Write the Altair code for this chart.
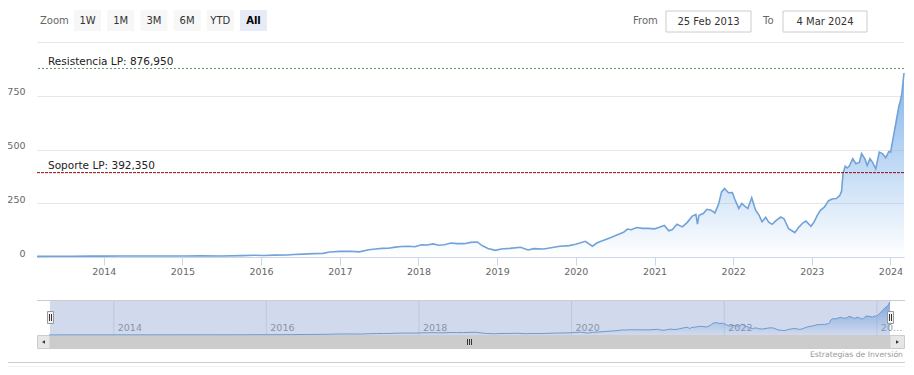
import altair as alt
import pandas as pd

FONT = "DejaVu Sans"

# ---------------- data ----------------
dates = [
    "2013-02-25", "2013-05-01", "2013-08-01", "2013-11-01",
    "2014-01-01", "2014-04-01", "2014-07-01", "2014-10-01",
    "2015-01-01", "2015-04-01", "2015-07-01", "2015-10-01", "2015-12-01",
    "2016-01-15", "2016-03-01", "2016-05-01", "2016-06-01", "2016-07-15",
    "2016-09-01", "2016-10-15", "2016-11-15",
    "2017-01-01", "2017-02-15", "2017-04-01", "2017-05-15", "2017-06-15",
    "2017-07-15", "2017-08-15", "2017-09-15", "2017-10-15", "2017-11-15", "2017-12-15",
    "2018-01-15", "2018-02-10", "2018-03-10", "2018-04-05", "2018-05-01", "2018-06-01",
    "2018-07-01", "2018-08-01", "2018-09-01", "2018-10-01", "2018-10-25", "2018-11-20",
    "2018-12-24",
    "2019-01-20", "2019-03-01", "2019-04-20", "2019-05-25", "2019-06-20", "2019-08-05",
    "2019-09-15", "2019-10-20", "2019-12-01",
    "2020-01-01", "2020-02-15", "2020-03-18", "2020-04-10", "2020-05-10", "2020-06-10",
    "2020-07-10", "2020-08-10", "2020-08-28", "2020-09-15", "2020-10-10", "2020-11-05",
    "2020-12-01",
    "2021-01-01", "2021-01-20", "2021-02-15", "2021-03-08", "2021-03-25", "2021-04-15",
    "2021-05-10", "2021-06-01", "2021-06-25", "2021-07-12", "2021-07-19", "2021-07-26",
    "2021-08-15", "2021-09-01", "2021-09-20", "2021-10-08", "2021-10-25", "2021-11-08",
    "2021-11-22", "2021-12-10", "2021-12-28",
    "2022-01-10", "2022-01-27", "2022-02-10", "2022-02-25", "2022-03-10", "2022-03-28",
    "2022-04-15", "2022-05-01", "2022-05-15", "2022-06-01", "2022-06-15", "2022-07-01",
    "2022-07-20", "2022-08-10", "2022-08-25", "2022-09-15", "2022-10-01", "2022-10-14",
    "2022-11-01", "2022-11-20", "2022-12-05", "2022-12-28",
    "2023-01-10", "2023-01-27", "2023-02-10", "2023-02-28", "2023-03-20", "2023-04-05",
    "2023-04-25", "2023-05-10", "2023-05-19", "2023-05-26", "2023-06-05", "2023-06-14",
    "2023-06-25", "2023-07-10", "2023-07-25", "2023-08-10", "2023-08-20", "2023-09-05",
    "2023-09-15", "2023-09-28", "2023-10-10", "2023-10-25", "2023-11-10", "2023-11-25",
    "2023-12-10", "2023-12-25",
    "2024-01-02", "2024-01-12", "2024-01-26", "2024-02-09", "2024-02-16", "2024-02-23",
    "2024-03-04",
]
values = [
    3.1, 3.5, 3.8, 3.9,
    4.0, 4.5, 4.7, 4.5,
    5.0, 5.3, 5.0, 6.5, 8.2,
    7.0, 8.5, 9.5, 11.6, 13.5,
    15.5, 17.0, 23.0,
    26.0, 26.5, 24.0, 34.0, 37.0,
    40.0, 41.0, 46.0, 49.0, 50.0, 48.0,
    57.0, 56.0, 61.0, 55.0, 57.0, 65.0,
    62.0, 62.0, 68.0, 70.0, 52.0, 40.0,
    31.0,
    37.0, 40.0, 45.0, 33.0, 39.0, 37.0,
    44.0, 50.0, 53.0,
    59.0, 73.0, 50.0, 66.0, 78.0, 90.0,
    102.0, 115.0, 130.0, 127.0, 137.0, 133.0,
    133.0,
    131.0, 137.0, 147.0, 122.0, 128.0, 152.0,
    140.0, 160.0, 190.0, 198.0, 153.0, 194.0,
    202.0, 222.0, 218.0, 205.0, 245.0, 303.0,
    319.0, 299.0, 300.0,
    265.0, 226.0, 249.0, 236.0, 226.0, 276.0,
    218.0, 195.0, 164.0, 184.0, 162.0, 152.0,
    170.0, 186.0, 178.0, 132.0, 122.0, 113.0,
    138.0, 158.0, 167.0, 143.0,
    160.0, 195.0, 217.0, 232.0, 262.0, 270.0,
    272.0, 285.0, 305.0, 389.0, 422.0, 414.0,
    424.0, 457.0, 434.0, 440.0, 481.0, 455.0,
    426.0, 457.0, 440.0, 410.0, 488.0, 481.0,
    462.0, 491.0,
    488.0, 545.0, 621.0, 700.0, 726.0, 760.0,
    856.0,
]

level_values = [876.95, 392.35]
level_labels = ["Resistencia LP: 876,950", "Soporte LP: 392,350"]

y_ticks = [0, 250, 500, 750, 1000]
x_tick_years = list(range(2014, 2025))
nav_years = ["2014-01-01", "2016-01-01", "2018-01-01", "2020-01-01", "2022-01-01", "2024-01-01"]
nav_labels = ["2014", "2016", "2018", "2020", "2022", "20…"]

buttons = ["1W", "1M", "3M", "6M", "YTD", "All"]
from_date = "25 Feb 2013"
to_date = "4 Mar 2024"
credit = "Estrategias de Inversión"

df = pd.DataFrame({"date": pd.to_datetime(dates), "value": values})
res_df = pd.DataFrame({"value": [level_values[0]], "label": [level_labels[0]]})
sup_df = pd.DataFrame({"value": [level_values[1]], "label": [level_labels[1]]})
nav_df = pd.DataFrame({"date": pd.to_datetime(nav_years), "label": nav_labels})
one = pd.DataFrame({"k": [0]})

# ---------------- styles ----------------
LINE = "#72a3d8"
W, H = 867, 215
d0 = alt.DateTime(year=2013, month=2, date=25)
d1 = alt.DateTime(year=2024, month=3, date=4)

grad = alt.Gradient(
    gradient="linear",
    stops=[alt.GradientStop(color="rgba(124,176,234,0.0)", offset=0),
           alt.GradientStop(color="rgba(124,176,234,0.95)", offset=1)],
    x1=1, x2=1, y1=1, y2=0,
)

xs = alt.Scale(domain=[d0, d1])
ys = alt.Scale(domain=[0, 1000], nice=False)

xaxis = alt.Axis(
    values=[alt.DateTime(year=y, month=1, date=1) for y in x_tick_years],
    format="%Y", title=None, grid=False,
    domainColor="#ccd6eb", tickColor="#ccd6eb", tickSize=8,
    labelPadding=1, labelFontSize=9.5, labelColor="#666666", labelFont=FONT,
    labelFlush=False, labelOverlap=False,
)
yaxis = alt.Axis(
    values=y_ticks, title=None, domain=False, ticks=False,
    gridColor="#e6e6e6", gridWidth=1,
    labelExpr="datum.value == 1000 ? '' : datum.label",
    labelPadding=12, labelFontSize=9.5, labelColor="#666666", labelFont=FONT,
    labelBaseline="alphabetic", labelOffset=-1,
)


def text_at(s, x, y, size=10, color="#333333", align="left", weight="normal"):
    return alt.Chart(one).mark_text(
        text=s, align=align, baseline="middle", fontSize=size, color=color,
        font=FONT, fontWeight=weight,
    ).encode(x=alt.value(x), y=alt.value(y))


def rect_at(x1, x2, y1, y2, fill, stroke=None, opacity=1.0):
    kw = dict(fill=fill, opacity=opacity)
    if stroke:
        kw.update(stroke=stroke, strokeWidth=1)
    return alt.Chart(one).mark_rect(**kw).encode(
        x=alt.value(x1), x2=alt.value(x2), y=alt.value(y1), y2=alt.value(y2))


def hline(x1, x2, y, color, width=1):
    return alt.Chart(one).mark_rule(color=color, strokeWidth=width).encode(
        x=alt.value(x1), x2=alt.value(x2), y=alt.value(y))


def vline(x, y1, y2, color, width=1):
    return alt.Chart(one).mark_rule(color=color, strokeWidth=width).encode(
        x=alt.value(x), y=alt.value(y1), y2=alt.value(y2))


# ---------------- main plot ----------------
base = alt.Chart(df)
area = base.mark_area(color=grad).encode(
    x=alt.X("date:T", scale=xs, axis=xaxis),
    y=alt.Y("value:Q", scale=ys, axis=yaxis),
)
line = base.mark_line(color=LINE, strokeWidth=1.6).encode(x="date:T", y="value:Q")

res_rule = alt.Chart(res_df).mark_rule(color="#5f9a5f", strokeDash=[2, 2], strokeWidth=1).encode(y="value:Q")
sup_rule = alt.Chart(sup_df).mark_rule(color="#8b0a0a", strokeDash=[3, 1], strokeWidth=1).encode(y="value:Q")
res_text = alt.Chart(res_df).mark_text(
    align="left", baseline="alphabetic", dy=-3, fontSize=10.5, color="#222222", font=FONT
).encode(x=alt.value(11), y="value:Q", text="label:N")
sup_text = alt.Chart(sup_df).mark_text(
    align="left", baseline="alphabetic", dy=-4, fontSize=10.5, color="#222222", font=FONT
).encode(x=alt.value(11), y="value:Q", text="label:N")

# ---------------- range selector / inputs ----------------
chrome = [text_at("Zoom", 3, -21, size=10, color="#666666")]
for i, b in enumerate(buttons):
    cx = 50.5 + i * 33.2
    sel = b == "All"
    chrome.append(rect_at(cx - 13.5, cx + 13.5, -32, -11, "#e6ebf5" if sel else "#f7f7f7"))
    chrome.append(text_at(b, cx, -21, size=10, color="#000000" if sel else "#333333",
                          align="center", weight="bold" if sel else "normal"))
chrome += [
    text_at("From", 596, -21, size=10, color="#666666"),
    rect_at(629, 714, -31, -10, "#ffffff", stroke="#cccccc"),
    text_at(from_date, 671.5, -20.5, size=10, color="#333333", align="center"),
    text_at("To", 726, -21, size=10, color="#666666"),
    rect_at(746, 830, -31, -10, "#ffffff", stroke="#cccccc"),
    text_at(to_date, 788, -20.5, size=10, color="#333333", align="center"),
]

# ---------------- scrollbar / credits ----------------
chrome += [
    rect_at(13, 853, 293, 307, "#cccccc"),
    rect_at(0.5, 13, 293.5, 306.5, "#e6e6e6", stroke="#cccccc"),
    rect_at(853, 867.5, 293.5, 306.5, "#e6e6e6", stroke="#cccccc"),
    alt.Chart(one).mark_point(shape="triangle-left", size=12, filled=True, color="#333333", opacity=1)
    .encode(x=alt.value(6.5), y=alt.value(300)),
    alt.Chart(one).mark_point(shape="triangle-right", size=12, filled=True, color="#333333", opacity=1)
    .encode(x=alt.value(860.5), y=alt.value(300)),
    vline(430.5, 297, 303, "#333333"),
    vline(432.5, 297, 303, "#333333"),
    vline(434.5, 297, 303, "#333333"),
    text_at(credit, 866, 313, size=7.7, color="#999999", align="right"),
    hline(-29, 868, 320.5, "#cccccc"),
    hline(-29, 868, 324.5, "#f0f0f0"),
]

main = alt.layer(area, line, res_rule, sup_rule, res_text, sup_text, *chrome)

# ---------------- navigator ----------------
nx = alt.Scale(domain=[d0, d1], range=[12, 853])
ny = alt.Scale(domain=[0, 900], range=[293, 258], nice=False)
nav_grid = alt.Chart(nav_df).mark_rule(color="#e6e6e6").encode(
    x=alt.X("date:T", scale=nx, axis=None), y=alt.value(258), y2=alt.value(293))
nav_text = alt.Chart(nav_df).mark_text(
    align="left", dx=4, baseline="middle", fontSize=9.5, color="#999999", font=FONT
).encode(x=alt.X("date:T", scale=nx, axis=None), y=alt.value(286), text="label:N")
nav_area = base.mark_area(color=grad).encode(
    x=alt.X("date:T", scale=nx, axis=None), y=alt.Y("value:Q", scale=ny, axis=None))
nav_line = base.mark_line(color=LINE, strokeWidth=1).encode(
    x=alt.X("date:T", scale=nx, axis=None), y=alt.Y("value:Q", scale=ny, axis=None))
nav_mask = rect_at(13, 853, 258, 293, "#6685c2", opacity=0.3)
nav_top = hline(0, 868, 258.5, "#cccccc")
handles = [
    rect_at(10.5, 16.5, 269.5, 281.5, "#f2f2f2", stroke="#999999"),
    vline(12.5, 272, 279, "#333333"),
    vline(14.5, 272, 279, "#333333"),
    rect_at(850.5, 856.5, 269.5, 281.5, "#f2f2f2", stroke="#999999"),
    vline(852.5, 272, 279, "#333333"),
    vline(854.5, 272, 279, "#333333"),
]
navigator = alt.layer(nav_grid, nav_text, nav_area, nav_line, nav_mask, nav_top, *handles)

chart = (
    alt.layer(main, navigator)
    .resolve_scale(x="independent", y="independent")
    .properties(
        width=W, height=H,
        autosize=alt.AutoSizeParams(type="none"),
        padding={"left": 29, "top": 34, "right": 2, "bottom": 110},
        background="white",
    )
    .configure_view(stroke=None)
)

chart.save("out.html", embed_options={"renderer": "svg", "actions": False})
